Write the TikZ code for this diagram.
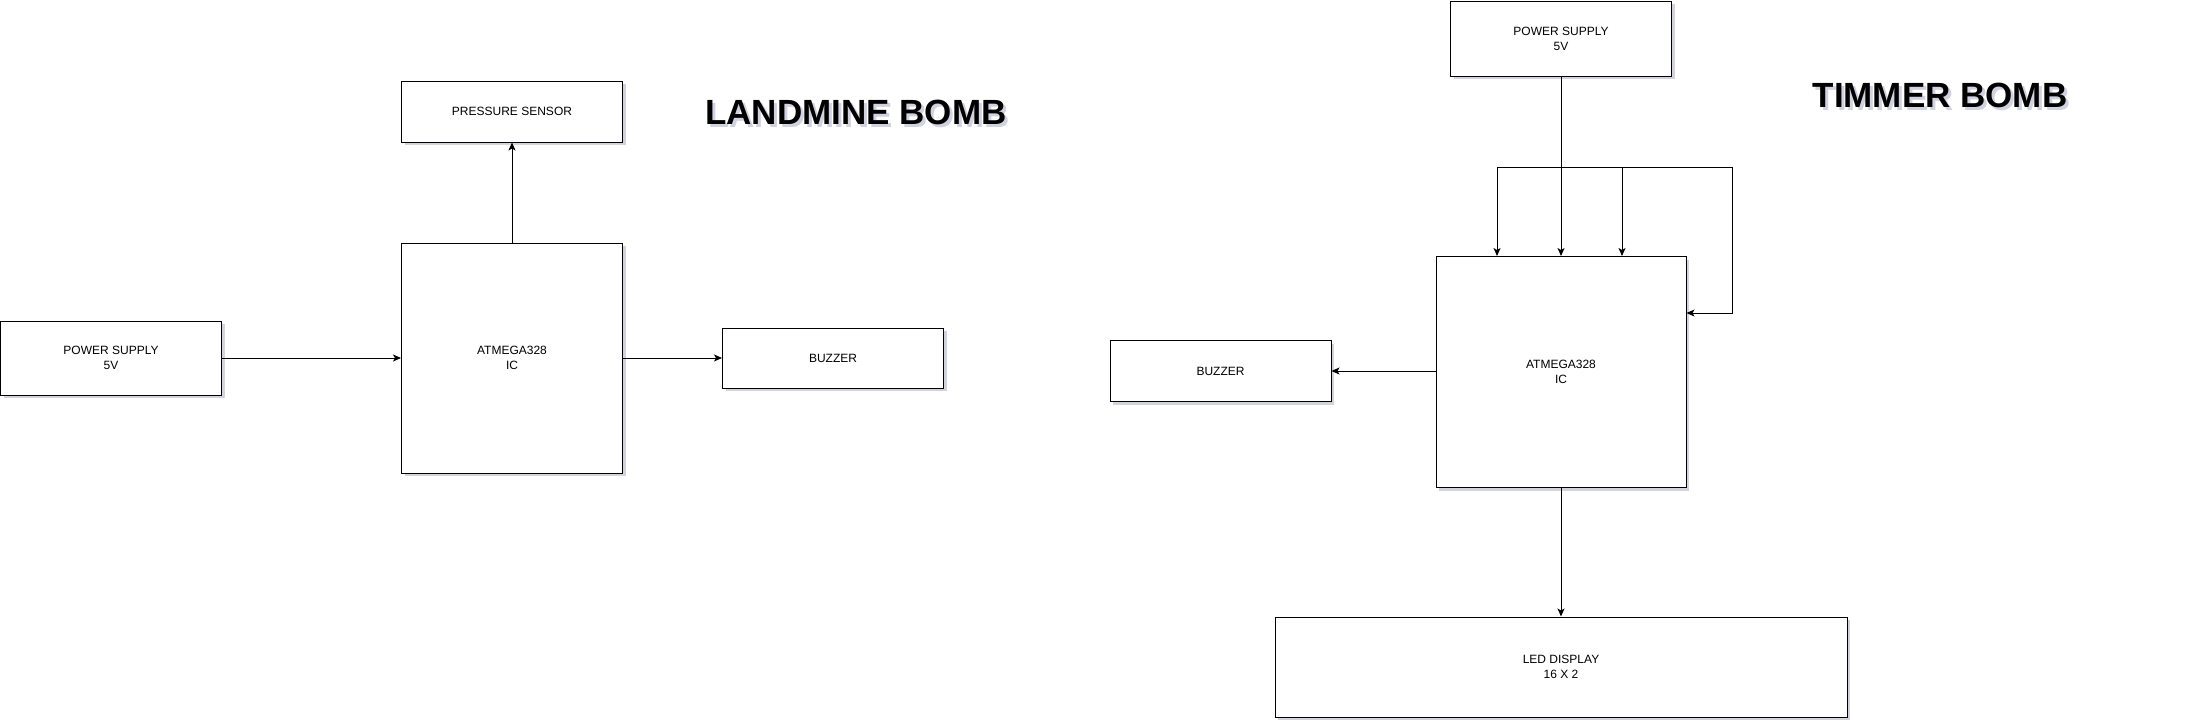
\documentclass[tikz,border=0pt]{standalone}
\usepackage{fontspec}
\setmainfont{Liberation Sans}
\usetikzlibrary{arrows.meta,shadows}

\tikzset{
  block/.style={draw=black, line width=1pt, fill=white, align=center,
    inner sep=0pt, font=\fontsize{12}{15}\selectfont,
    drop shadow={shadow xshift=3pt, shadow yshift=-3pt, fill=blue!15!gray, opacity=0.3}},
  link/.style={line width=1pt, -{Stealth[length=8pt,width=7pt,inset=2pt]}},
  heading/.style={font=\bfseries\fontsize{35}{40}\selectfont, inner sep=0pt},
  headshade/.style={heading, text=blue!20!gray, opacity=0.3}
}

\begin{document}
\begin{tikzpicture}[x=1pt, y=-1pt]
    \useasboundingbox (0,0) rectangle (2206,728);

    % Landmine bomb
    \node[block, minimum width=221pt, minimum height=74pt] (psuA) at (111,358) {POWER SUPPLY\\5V};
    \node[block, minimum width=221pt, minimum height=230pt] (icA) at (512,358) {ATMEGA328\\IC};
    \node[block, minimum width=221pt, minimum height=61pt] (sensorA) at (512,111.5) {PRESSURE SENSOR};
    \node[block, minimum width=221pt, minimum height=60pt] (buzzerA) at (833,358) {BUZZER};
    \node[headshade] (titleAshade) at (859,115) {LANDMINE BOMB};
    \node[heading] (titleA) at (856,112) {LANDMINE BOMB};

    \draw[link] (psuA) -- (icA);
    \draw[link] (icA) -- (buzzerA);
    \draw[link] (icA) -- (sensorA);

    % Timmer bomb
    \node[block, minimum width=221pt, minimum height=75pt] (psuB) at (1561,38.5) {POWER SUPPLY\\5V};
    \node[block, minimum width=250pt, minimum height=231pt] (icB) at (1561,372) {ATMEGA328\\IC};
    \node[block, minimum width=221pt, minimum height=61pt] (buzzerB) at (1220.5,371) {BUZZER};
    \node[block, minimum width=572pt, minimum height=100pt] (ledB) at (1561,667) {LED DISPLAY\\16 X 2};
    \node[headshade] (titleBshade) at (1943,98) {TIMMER BOMB};
    \node[heading] (titleB) at (1940,95) {TIMMER BOMB};

    % Supply lines to the IC
    \coordinate (fork) at (1561,167);
    \coordinate (loop) at (1732,167);
    \draw[link] (psuB) -- (icB);
    \draw[link] (fork) -| ([xshift=-64pt]icB.north);
    \draw[link] (fork) -| ([xshift=61pt]icB.north);
    \draw[link] (fork) -- (loop) |- ([yshift=59pt]icB.east);

    % Outputs
    \draw[link] (icB.west |- buzzerB) -- (buzzerB);
    \draw[link] (icB) -- (ledB);

\end{tikzpicture}
\end{document}
